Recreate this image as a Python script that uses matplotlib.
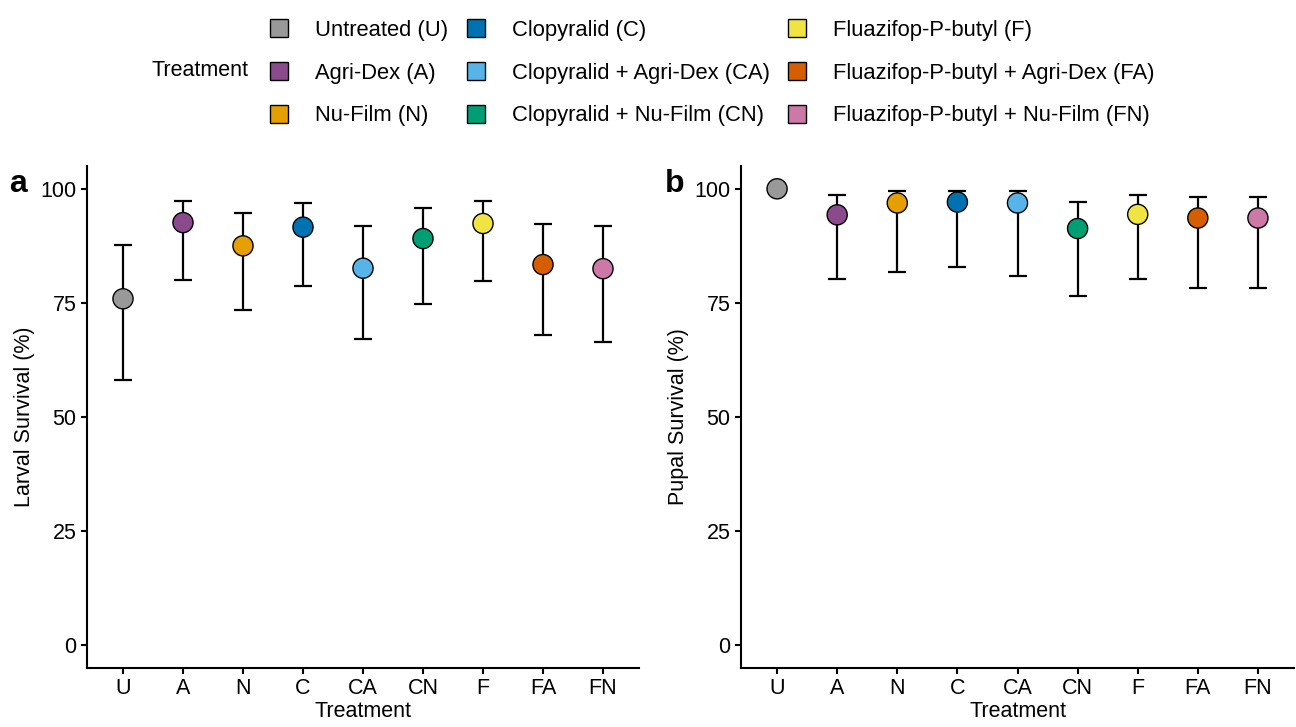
import matplotlib
matplotlib.use("Agg")
import matplotlib.pyplot as plt
from matplotlib.lines import Line2D
import numpy as np

plt.rcParams['font.family'] = ['Liberation Sans', 'DejaVu Sans']

codes = ["U", "A", "N", "C", "CA", "CN", "F", "FA", "FN"]
names = ["Untreated (U)", "Agri-Dex (A)", "Nu-Film (N)",
         "Clopyralid (C)", "Clopyralid + Agri-Dex (CA)", "Clopyralid + Nu-Film (CN)",
         "Fluazifop-P-butyl (F)", "Fluazifop-P-butyl + Agri-Dex (FA)",
         "Fluazifop-P-butyl + Nu-Film (FN)"]
colors = ["#999999", "#8B4A8C", "#E69F00", "#0072B2", "#56B4E9",
          "#009E73", "#F0E442", "#D55E00", "#CC79A7"]

larval_mean = [75.9, 92.6, 87.5, 91.6, 82.6, 89.1, 92.4, 83.4, 82.5]
larval_low  = [58.1, 80.1, 73.4, 78.6, 67.1, 74.8, 79.7, 67.9, 66.5]
larval_high = [87.7, 97.4, 94.8, 97.0, 91.8, 95.7, 97.3, 92.4, 91.8]

pupal_mean = [100.0, 94.3, 96.9, 97.1, 96.9, 91.3, 94.4, 93.6, 93.6]
pupal_low  = [100.0, 80.3, 81.8, 82.8, 80.8, 76.5, 80.3, 78.2, 78.2]
pupal_high = [100.0, 98.7, 99.6, 99.6, 99.6, 97.2, 98.6, 98.3, 98.3]

yticks = [0, 25, 50, 75, 100]

W, H = 1296, 727
fig = plt.figure(figsize=(W / 100, H / 100), dpi=100)

def fx(px):
    return px / W

def fy(py):
    return 1 - py / H

ax_a = fig.add_axes([fx(87), fy(668), fx(639) - fx(87), fy(166) - fy(668)])
ax_b = fig.add_axes([fx(741), fy(668), fx(1294) - fx(741), fy(166) - fy(668)])

FS = 15.5

def draw(ax, mean, low, high, ylabel, letter, letter_x):
    x = np.arange(len(codes))
    mean = np.array(mean)
    yerr = np.vstack([mean - np.array(low), np.array(high) - mean])
    ax.errorbar(x, mean, yerr=yerr, fmt='none', ecolor='black',
                elinewidth=1.6, capsize=6.5, capthick=1.6, zorder=2)
    ax.scatter(x, mean, s=14.5 ** 2, c=colors, edgecolors='black',
               linewidths=1.0, zorder=3)
    ax.set_xlim(-0.6, len(codes) - 0.4)
    ax.set_ylim(-5, 105)
    ax.set_xticks(x)
    ax.set_xticklabels(codes)
    ax.set_yticks(yticks)
    ax.set_yticklabels([str(v) for v in yticks])
    for side in ['top', 'right']:
        ax.spines[side].set_visible(False)
    for side in ['left', 'bottom']:
        ax.spines[side].set_linewidth(1.5)
    ax.tick_params(axis='both', labelsize=FS, width=1.5, length=4.5,
                   colors='black', pad=3)
    ax.set_xlabel("Treatment", fontsize=FS, labelpad=1)
    ax.set_ylabel(ylabel, fontsize=FS, labelpad=4)
    fig.text(fx(letter_x), fy(184), letter, fontsize=23, fontweight='bold',
             ha='center', va='center')

draw(ax_a, larval_mean, larval_low, larval_high, "Larval Survival (%)", "a", 18)
draw(ax_b, pupal_mean, pupal_low, pupal_high, "Pupal Survival (%)", "b", 675)

handles = [Line2D([], [], linestyle='none', marker='s', markersize=13,
                  markerfacecolor=c, markeredgecolor='black', markeredgewidth=1.0)
           for c in colors]
fig.legend(handles, names, ncol=3, loc='upper left',
           bbox_to_anchor=(fx(268), fy(20)), frameon=False, fontsize=15.8,
           borderpad=0, borderaxespad=0, handlelength=1.0, handletextpad=1.14,
           columnspacing=0.75, labelspacing=0.99)
fig.text(fx(152), fy(71), "Treatment", fontsize=FS, ha='left', va='center')

fig.savefig("out.png", dpi=100)
